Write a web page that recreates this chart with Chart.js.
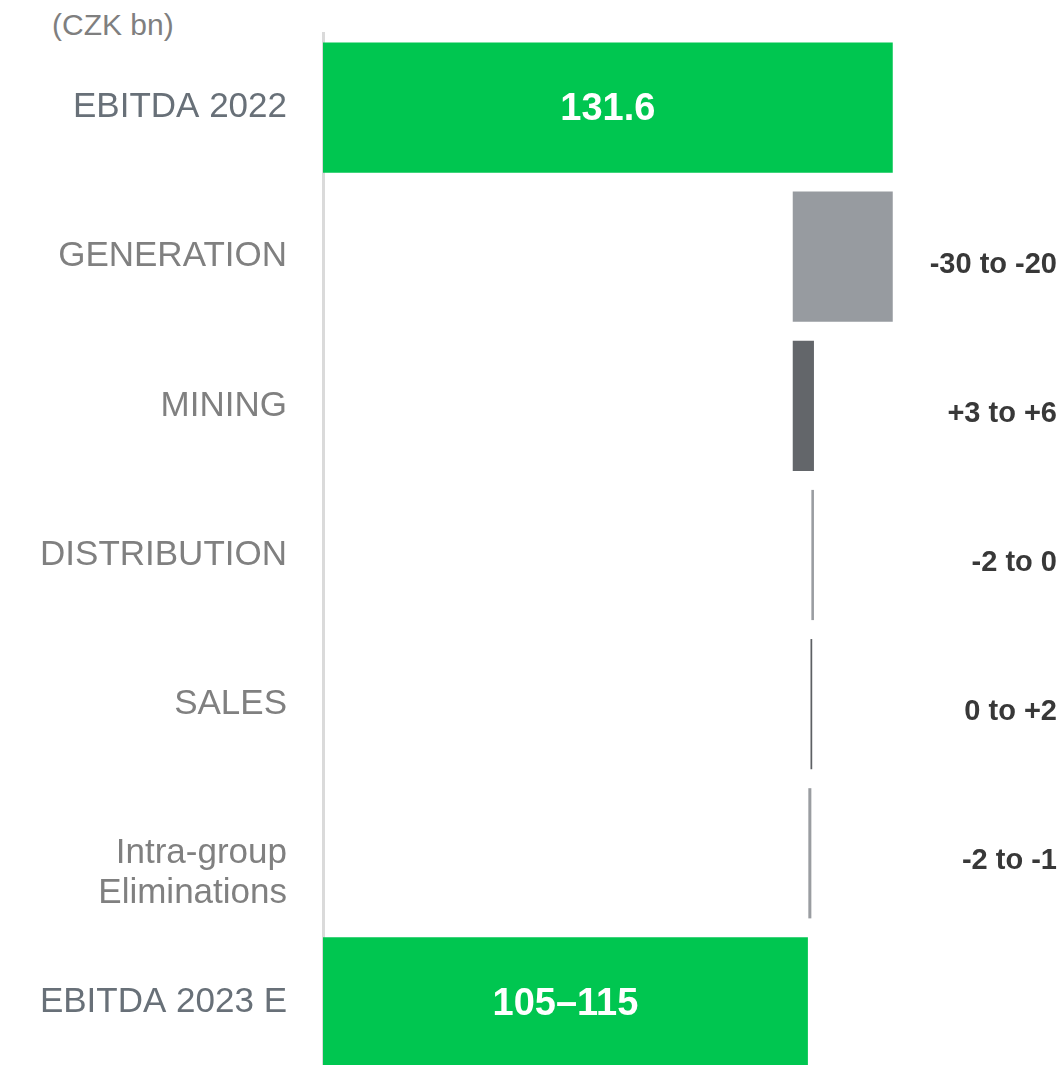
<!DOCTYPE html>
<html>
<head>
<meta charset="utf-8">
<title>EBITDA bridge 2022 - 2023 E</title>
<script src="https://cdn.jsdelivr.net/npm/chart.js@4.4.1/dist/chart.umd.min.js"></script>
<style>
    html, body { margin: 0; padding: 0; background: #fff; overflow: hidden; }
    #wrap { position: relative; width: 1063px; height: 1065px; overflow: hidden; }
    #unit {
        position: absolute; left: 52px; top: 8px;
        font: 30px "Liberation Sans", Arial, sans-serif; color: #7f7f7f;
    }
    #bridgeChart { position: absolute; left: 0; top: 0; }
</style>
</head>
<body>
<div id="wrap">
    <div id="unit">(CZK bn)</div>
    <canvas id="bridgeChart" width="1063" height="1080"></canvas>
</div>
<script>
// Bridge data (CZK bn)
const categories = ['EBITDA 2022', 'GENERATION', 'MINING', 'DISTRIBUTION', 'SALES',
    ['', 'Intra-group', 'Eliminations'], 'EBITDA 2023 E'];
const barStart = [0, 108.5, 108.5, 112.8, 112.6, 112.1, 0];
const barEnd = [131.6, 131.6, 113.4, 113.4, 113.0, 112.8, 112.0];
const insideLabels = ['131.6', '', '', '', '', '', '105–115'];
const sideLabels = ['', '-30 to -20', '+3 to +6', '-2 to 0', '0 to +2', '-2 to -1', ''];

const barColors = ['#00c650', '#979ba0', '#63666a', '#9a9da1', '#5d6064', '#9a9da1', '#00c650'];
const FONT = '"Liberation Sans", Arial, sans-serif';

document.addEventListener('DOMContentLoaded', function () {
    const canvas = document.getElementById('bridgeChart');

    // value labels: white inside the total bars, dark on the right for the deltas
    const valueLabels = {
        id: 'valueLabels',
        afterDatasetsDraw(chart) {
            const ctx = chart.ctx;
            const meta = chart.getDatasetMeta(0);
            const area = chart.chartArea;
            ctx.save();
            meta.data.forEach((bar, i) => {
                if (insideLabels[i]) {
                    ctx.font = 'bold 38px ' + FONT;
                    ctx.fillStyle = '#ffffff';
                    ctx.textAlign = 'center';
                    ctx.textBaseline = 'middle';
                    ctx.fillText(insideLabels[i], (bar.x + bar.base) / 2, bar.y + 2);
                }
                if (sideLabels[i]) {
                    ctx.font = 'bold 29px ' + FONT;
                    ctx.fillStyle = '#383838';
                    ctx.textAlign = 'right';
                    ctx.textBaseline = 'middle';
                    ctx.fillText(sideLabels[i], area.right - 2, bar.y + 8);
                }
            });
            ctx.restore();
        }
    };

    new Chart(canvas.getContext('2d'), {
        type: 'bar',
        data: {
            labels: categories,
            datasets: [{
                data: barStart.map((s, i) => [s, barEnd[i]]),
                backgroundColor: barColors,
                borderWidth: 0,
                borderSkipped: false,
                categoryPercentage: 1,
                barPercentage: 0.873
            }]
        },
        options: {
            indexAxis: 'y',
            responsive: false,
            animation: false,
            layout: { padding: { top: 33, bottom: 3, right: 4, left: 0 } },
            plugins: {
                legend: { display: false },
                tooltip: { enabled: false },
                title: { display: false }
            },
            scales: {
                x: {
                    display: false,
                    min: 0,
                    max: 170
                },
                y: {
                    afterFit: function (scale) {
                        scale.width = 323;
                        // bars are offset from the ends, labels need no extra room
                        scale.paddingTop = 0;
                        scale.paddingBottom = 0;
                    },
                    grid: { display: false, drawTicks: false },
                    border: { display: true, color: '#dadada', width: 3 },
                    ticks: {
                        padding: 36,
                        font: { family: FONT, size: 35, lineHeight: 1.15 },
                        color: function (ctx) {
                            return (ctx.index === 0 || ctx.index === 6) ? '#687078' : '#808080';
                        }
                    }
                }
            }
        },
        plugins: [valueLabels]
    });
});
</script>
</body>
</html>
